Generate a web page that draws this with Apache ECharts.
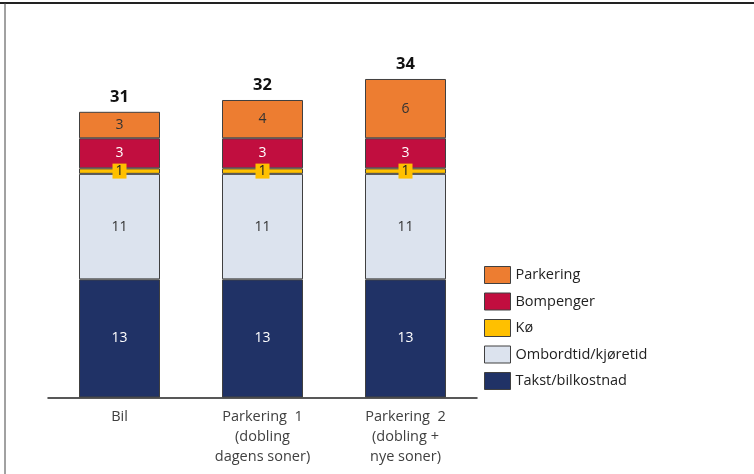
<!DOCTYPE html>
<html>
<head>
<meta charset="utf-8">
<script src="https://cdn.jsdelivr.net/npm/echarts@6/dist/echarts.min.js"></script>
<style>
  html, body { margin: 0; padding: 0; background: #fff; }
</style>
</head>
<body>
<div id="chart" style="width: 754px; height: 474px"></div>
<script>
var categories = ["Bil", "Parkering  1\n(dobling\ndagens soner)", "Parkering  2\n(dobling +\nnye soner)"];
var takst = [12.7, 12.7, 12.7];
var ombordtid = [11.35, 11.35, 11.35];
var ko = [0.59, 0.59, 0.59];
var bompenger = [3.23, 3.23, 3.23];
var parkering = [2.85, 4.12, 6.38];
var legendNames = ["Parkering", "Bompenger", "Kø", "Ombordtid/kjøretid", "Takst/bilkostnad"];

var totals = [];
for (let i = 0; i < categories.length; i++) {
  totals.push(takst[i] + ombordtid[i] + ko[i] + bompenger[i] + parkering[i]);
}

var chart = echarts.init(document.getElementById("chart"));

function seg(name, data, color, textColor) {
  return {
    name: name,
    type: "bar",
    stack: "sum",
    barWidth: 81,
    data: data,
    itemStyle: { color: color, borderColor: "#404040", borderWidth: 1 },
    label: {
      show: true,
      position: "inside",
      color: textColor,
      fontSize: 14,
      fontFamily: "Open Sans",
      formatter: function (p) { return Math.round(p.value); },
    },
  };
}

var koSeries = seg("Kø", ko, "#FFC000", "#222");
koSeries.label.backgroundColor = "#FFC000";
koSeries.label.padding = [1, 3, 0, 3];

var option = {
  animation: false,
  grid: { left: 48, right: 277, top: 62.7, bottom: 76.5 },
  legend: {
    data: legendNames,
    orient: "vertical",
    left: 484,
    top: 266,
    padding: 0,
    itemWidth: 26,
    itemHeight: 17,
    itemGap: 8.5,
    icon: "rect",
    itemStyle: { borderColor: "#404040", borderWidth: 1 },
    textStyle: { fontSize: 14.5, lineHeight: 17, color: "#222", fontFamily: "Open Sans" },
  },
  xAxis: {
    type: "category",
    data: categories,
    axisLine: { lineStyle: { color: "#222", width: 1.5 } },
    axisTick: { show: false },
    axisLabel: { color: "#404040", fontSize: 14.5, lineHeight: 20, margin: 9, fontFamily: "Open Sans" },
  },
  yAxis: {
    type: "value",
    min: 0,
    max: 36,
    show: false,
  },
  graphic: [
    { type: "line", shape: { x1: 0, y1: 3, x2: 754, y2: 3 }, style: { stroke: "#222", lineWidth: 2 } },
    { type: "line", shape: { x1: 5, y1: 3, x2: 5, y2: 474 }, style: { stroke: "#444", lineWidth: 1 } },
  ],
  series: [
    seg("Takst/bilkostnad", takst, "#203266", "#fff"),
    seg("Ombordtid/kjøretid", ombordtid, "#DCE3EE", "#333"),
    koSeries,
    seg("Bompenger", bompenger, "#C10E3F", "#fff"),
    seg("Parkering", parkering, "#ED7D31", "#333"),
    {
      name: "Total",
      type: "bar",
      stack: "sum",
      barWidth: 81,
      data: totals.map(function () { return 0; }),
      itemStyle: { color: "transparent" },
      label: {
        show: true,
        position: "top",
        distance: 6,
        color: "#111",
        fontSize: 16.5,
        fontWeight: "bold",
        fontFamily: "Open Sans",
        formatter: function (p) { return Math.round(totals[p.dataIndex]); },
      },
    },
  ],
};
chart.setOption(option);
</script>
</body>
</html>
